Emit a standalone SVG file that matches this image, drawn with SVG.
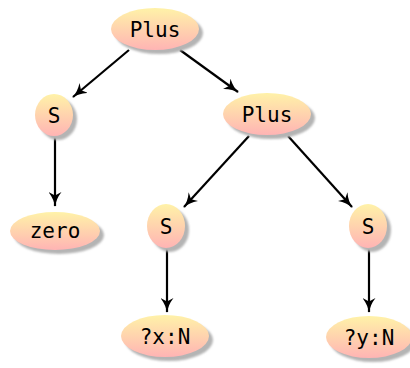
<svg xmlns="http://www.w3.org/2000/svg" width="410" height="368" viewBox="0 0 410 368">
<defs>
<linearGradient id="g" x1="0" y1="0" x2="0" y2="1">
<stop offset="0" stop-color="#fff2a8"/>
<stop offset="1" stop-color="#ffb4b4"/>
</linearGradient>
<filter id="blur" x="-20%" y="-20%" width="140%" height="140%"><feGaussianBlur stdDeviation="0.8"/></filter>
<marker id="arr" viewBox="0 0 15 13" refX="14" refY="6.5" markerWidth="15" markerHeight="13" markerUnits="userSpaceOnUse" orient="auto">
<path d="M0,0 Q7,5.5 15,6.5 Q7,7.5 0,13 L3.5,6.5 Z" fill="#000"/>
</marker>
</defs>
<style>
.sh{fill:#b4b4b4;filter:url(#blur)}
.nd{fill:url(#g)}
.lb{font-family:"DejaVu Sans Mono","Liberation Mono",monospace;font-size:21px;fill:#000;text-anchor:middle;dominant-baseline:central}
.e{stroke:#000;stroke-width:2.2;fill:none;marker-end:url(#arr)}
</style>
<g id="edges">
<line class="e" x1="129" y1="50" x2="73" y2="97"/>
<line class="e" x1="180" y1="50" x2="238" y2="92"/>
<line class="e" x1="249" y1="136" x2="184" y2="207"/>
<line class="e" x1="288" y1="136" x2="352" y2="207"/>
<line class="e" x1="55" y1="136" x2="55" y2="206"/>
<line class="e" x1="167" y1="248" x2="167" y2="312"/>
<line class="e" x1="369" y1="248" x2="369" y2="312"/>
</g>
<g id="n1"><ellipse class="sh" cx="159" cy="33" rx="44" ry="21"/><ellipse class="nd" cx="155" cy="29" rx="44" ry="21"/><text class="lb" x="155" y="30">Plus</text></g>
<g id="n2"><ellipse class="sh" cx="58" cy="119" rx="19" ry="21"/><ellipse class="nd" cx="54" cy="115" rx="19" ry="21"/><text class="lb" x="54" y="116">S</text></g>
<g id="n3"><ellipse class="sh" cx="59" cy="235" rx="45" ry="19"/><ellipse class="nd" cx="55" cy="231" rx="45" ry="19"/><text class="lb" x="55" y="231">zero</text></g>
<g id="n4"><ellipse class="sh" cx="271" cy="118" rx="44" ry="21"/><ellipse class="nd" cx="267" cy="114" rx="44" ry="21"/><text class="lb" x="267" y="115">Plus</text></g>
<g id="n5"><ellipse class="sh" cx="170" cy="230" rx="19" ry="22"/><ellipse class="nd" cx="166" cy="226" rx="19" ry="22"/><text class="lb" x="166" y="227">S</text></g>
<g id="n6"><ellipse class="sh" cx="372" cy="230" rx="19" ry="22"/><ellipse class="nd" cx="368" cy="226" rx="19" ry="22"/><text class="lb" x="368" y="227">S</text></g>
<g id="n7"><ellipse class="sh" cx="169" cy="340" rx="44" ry="21"/><ellipse class="nd" cx="165" cy="336" rx="44" ry="21"/><text class="lb" x="165" y="337">?x:N</text></g>
<g id="n8"><ellipse class="sh" cx="373" cy="341" rx="43" ry="21"/><ellipse class="nd" cx="369" cy="337" rx="43" ry="21"/><text class="lb" x="369" y="338">?y:N</text></g>
</svg>
